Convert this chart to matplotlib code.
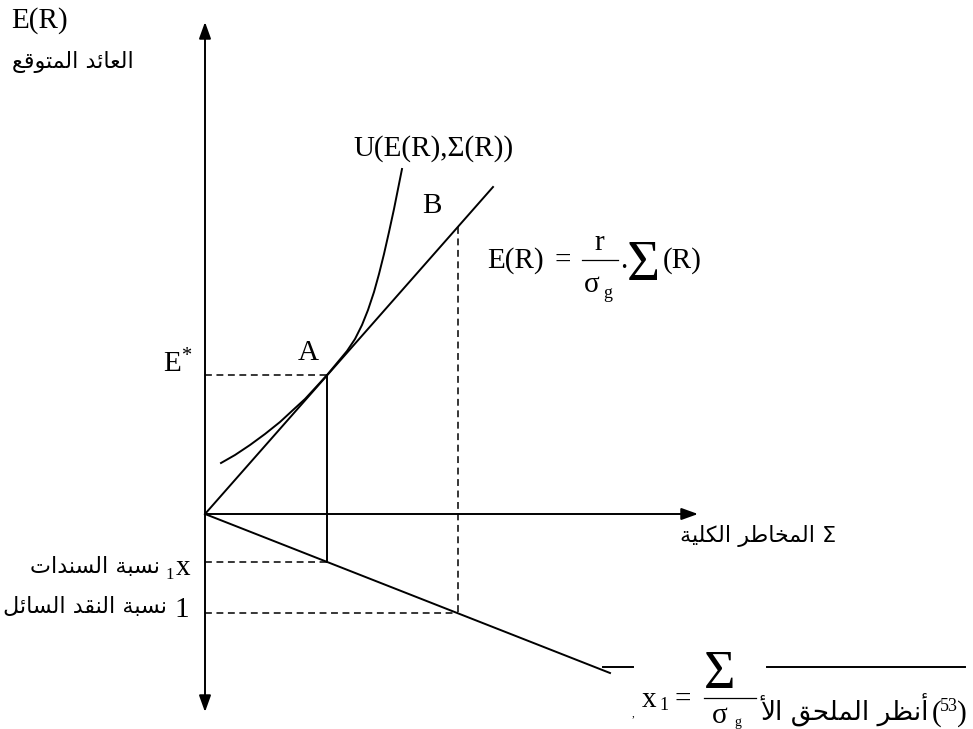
import matplotlib
matplotlib.use('Agg')
import matplotlib.pyplot as plt
import numpy as np

plt.rcParams['mathtext.fontset'] = 'custom'
plt.rcParams['mathtext.rm'] = 'Liberation Serif'
plt.rcParams['mathtext.it'] = 'Liberation Serif'
plt.rcParams['mathtext.bf'] = 'Liberation Serif:bold'

SERIF = ['Liberation Serif', 'DejaVu Serif']
ARAB = ['DejaVu Sans']

# diagram geometry, in picture pixels
origin = (205, 514)
y_axis = [22, 712]
x_axis_end = 698
ray_up_x = [205, 493]
ray_up_y = [514, 187]
ray_down_x = [205, 610]
ray_down_y = [514, 673]
x_A = 327
x_B = 458

# indifference curve U(E(R), Sigma(R))
U_x = [221, 235, 250, 265, 280, 293, 305, 317, 327, 337, 347, 355, 362,
       368, 374, 379, 384, 389, 394, 398, 402]
U_y = [463, 455, 445, 434, 422, 410, 399, 386, 375, 363, 351, 339, 325,
       310, 292, 274, 254, 232, 209, 189, 169]

# footnote separator pieces
rule_y = 667
rule_segs = [(603, 633), (767, 965)]

# texts
lbl_ER = 'E(R)'
lbl_ret = 'العائد المتوقع'
lbl_risk = 'المخاطر الكلية'
lbl_bonds = 'نسبة السندات'
lbl_cash = 'نسبة النقد السائل'
lbl_note = 'أنظر الملحق الأ'
lbl_U = 'U(E(R),Σ(R))'

FOUR = {'ب': 0xFE8F, 'ت': 0xFE95, 'ح': 0xFEA1, 'خ': 0xFEA5, 'س': 0xFEB1,
        'ط': 0xFEC1, 'ظ': 0xFEC5, 'ع': 0xFEC9, 'ق': 0xFED5, 'ك': 0xFED9,
        'ل': 0xFEDD, 'م': 0xFEE1, 'ن': 0xFEE5, 'ي': 0xFEF1, 'ئ': 0xFE89}
TWO = {'ا': 0xFE8D, 'أ': 0xFE83, 'د': 0xFEA9, 'ر': 0xFEAD, 'و': 0xFEED,
       'ة': 0xFE93}
LAM_ALEF = {'ا': 0xFEFB, 'أ': 0xFEF7}


def shape(s):
    # poor man's arabic shaping + reversal (matplotlib has no bidi)
    toks = []
    i = 0
    while i < len(s):
        if s[i] == 'ل' and i + 1 < len(s) and s[i + 1] in LAM_ALEF:
            toks.append(('LA', s[i + 1]))
            i += 2
            continue
        toks.append(s[i])
        i += 1

    def joins_left(t):
        return isinstance(t, str) and t in FOUR

    def is_letter(t):
        return (not isinstance(t, str)) or t in FOUR or t in TWO

    out = []
    for k, t in enumerate(toks):
        prev = toks[k - 1] if k > 0 else None
        nxt = toks[k + 1] if k + 1 < len(toks) else None
        p = prev is not None and joins_left(prev) and is_letter(t)
        n = joins_left(t) and nxt is not None and is_letter(nxt)
        if isinstance(t, tuple):
            out.append(chr(LAM_ALEF[t[1]] + (1 if p else 0)))
        elif t in FOUR:
            out.append(chr(FOUR[t] + (3 if (p and n) else 1 if p else 2 if n else 0)))
        elif t in TWO:
            out.append(chr(TWO[t] + (1 if p else 0)))
        else:
            out.append(t)
    return ''.join(reversed(out))


fig = plt.figure(figsize=(9.73, 7.29), dpi=100)
ax = fig.add_axes([0, 0, 1, 1])
ax.set_xlim(0, 973)
ax.set_ylim(729, 0)
ax.axis('off')

LW = 1.4
dash = dict(color='k', lw=1.1, dashes=(4.5, 3))

# axes with arrows
ax.annotate('', xy=(origin[0], y_axis[0]), xytext=(origin[0], y_axis[1]),
            arrowprops=dict(arrowstyle='<|-|>,head_length=0.5,head_width=0.18',
                            lw=LW, color='k', mutation_scale=20, shrinkA=0, shrinkB=0))
ax.annotate('', xy=(x_axis_end, origin[1]), xytext=origin,
            arrowprops=dict(arrowstyle='-|>,head_length=0.5,head_width=0.18',
                            lw=LW, color='k', mutation_scale=20, shrinkA=0, shrinkB=0))

# rays from origin
ax.plot(ray_up_x, ray_up_y, color='k', lw=LW)
ax.plot(ray_down_x, ray_down_y, color='k', lw=LW)

# curve
ax.plot(U_x, U_y, color='k', lw=LW, solid_joinstyle='round')

yA_up = np.interp(x_A, ray_up_x, ray_up_y)
yA_dn = np.interp(x_A, ray_down_x, ray_down_y)
yB_up = np.interp(x_B, ray_up_x, ray_up_y)
yB_dn = np.interp(x_B, ray_down_x, ray_down_y)

ax.plot([x_A, x_A], [yA_up, yA_dn], color='k', lw=LW)
ax.plot([origin[0], x_A], [yA_up, yA_up], **dash)
ax.plot([origin[0], x_A], [yA_dn, yA_dn], **dash)
ax.plot([origin[0], x_B], [yB_dn, yB_dn], **dash)
ax.plot([x_B, x_B], [yB_up, yB_dn], **dash)

for a, b in rule_segs:
    ax.plot([a, b], [rule_y, rule_y], color='k', lw=LW)

# labels top-left
ax.text(11, 28, lbl_ER, family=SERIF, fontsize=21, va='baseline', ha='left')
ax.text(12, 62, shape(lbl_ret), family=ARAB, fontsize=16, va='center', ha='left')

ax.text(163, 372, r'$\mathrm{E}^{*}$', fontsize=21, va='baseline', ha='left')
ax.text(308, 360, 'A', family=SERIF, fontsize=21, va='baseline', ha='center')
ax.text(432, 213, 'B', family=SERIF, fontsize=21, va='baseline', ha='center')
ax.text(353, 156, lbl_U, family=SERIF, fontsize=21, va='baseline', ha='left')

# E(R) = r/sigma_g . Sum(R)
ax.text(487, 268, 'E(R)', family=SERIF, fontsize=21, va='baseline', ha='left')
ax.text(563, 268, '=', family=SERIF, fontsize=21, va='baseline', ha='center')
ax.text(599, 250, 'r', family=SERIF, fontsize=21, va='baseline', ha='center')
ax.plot([582, 618], [260, 260], color='k', lw=0.9)
ax.text(592, 292, 'σ', family=SERIF, fontsize=21, va='baseline', ha='center')
ax.text(603, 298, 'g', family=SERIF, fontsize=13, va='baseline', ha='left')
ax.text(624, 268, '.', family=SERIF, fontsize=21, va='baseline', ha='center')
ax.text(627, 280, 'Σ', family=SERIF, fontsize=41, va='baseline', ha='left')
ax.text(663, 268, '(R)', family=SERIF, fontsize=21, va='baseline', ha='left')

# x-axis label
ax.text(836, 536, shape(lbl_risk) + ' Σ', family=ARAB, fontsize=16, va='center', ha='right')

# left labels
ax.text(190, 575, 'x', family=SERIF, fontsize=21, va='baseline', ha='right')
ax.text(174, 579, '1', family=SERIF, fontsize=12, va='baseline', ha='right')
ax.text(160, 567, shape(lbl_bonds), family=ARAB, fontsize=16, va='center', ha='right')
ax.text(189, 617, '1', family=SERIF, fontsize=21, va='baseline', ha='right')
ax.text(167, 607, shape(lbl_cash), family=ARAB, fontsize=16, va='center', ha='right')

# footnote x1 = Sum / sigma_g
ax.text(642, 707, 'x', family=SERIF, fontsize=21, va='baseline', ha='left')
ax.text(659, 710, '1', family=SERIF, fontsize=13, va='baseline', ha='left')
ax.text(683, 707, '=', family=SERIF, fontsize=21, va='baseline', ha='center')
ax.text(704, 688, 'Σ', family=SERIF, fontsize=39, va='baseline', ha='left')
ax.plot([704, 756], [698, 698], color='k', lw=0.9)
ax.text(712, 723, 'σ', family=SERIF, fontsize=21, va='baseline', ha='left')
ax.text(734, 726, 'g', family=SERIF, fontsize=10, va='baseline', ha='left')
ax.text(633, 716, ',', family=SERIF, fontsize=8, va='baseline', ha='center')

ax.text(929, 710, shape(lbl_note), family=ARAB, fontsize=19, va='center', ha='right')
ax.text(932, 721, '(', family=SERIF, fontsize=21, va='baseline', ha='left')
ax.text(940, 711, '53', family=SERIF, fontsize=13, va='baseline', ha='left')
ax.text(967, 721, ')', family=SERIF, fontsize=21, va='baseline', ha='right')

fig.savefig('out.png', dpi=100)
